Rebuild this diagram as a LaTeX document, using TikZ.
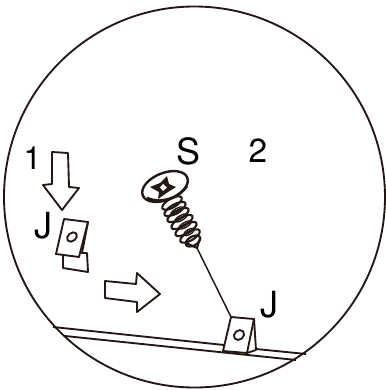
\documentclass[tikz,border=0pt]{standalone}
\usepackage{fontspec}
\setmainfont{TeX Gyre Heros}
\usepackage{tikz}
\definecolor{inkdark}{RGB}{35, 24, 21}
\tikzset{
  outline/.style={draw=inkdark, line width=1.4pt, line join=round},
  label/.style={font=\fontsize{#1}{#1}\selectfont, text=black, inner sep=0pt},
  thread/.style={draw=inkdark, line width=1.6pt}
}
\begin{document}
\begin{tikzpicture}[x=0.75pt, y=-0.75pt]
  \useasboundingbox (0,0) rectangle (386,390);

  % Outer circle
  \draw[draw=inkdark, line width=1.4pt] (194.5,197) circle [x radius=190.5, y radius=190.5];

  % Rail
  \draw[outline] (53,327) -- (224,345);
  \draw[outline] (256,349) -- (306,354);
  \draw[outline] (65,336) -- (296,360);

  % Arrow down
  \draw[outline] (52,152) -- (68,153) -- (69,187) -- (79,188) -- (62,210) -- (43,185) -- (52,184) -- cycle;
  % Arrow right
  \draw[outline] (105,281) -- (136,284) -- (137,273) -- (160,294) -- (137,312) -- (137,302) -- (105,298) -- cycle;

  % Loose clip
  \draw[outline] (64,219) -- (88,222) -- (79,257) -- (56,254) -- cycle;
  \draw[outline] (88,222) -- (82,253) -- (87,253) -- (88,272) -- (63,268) -- (63,256);
  \draw[outline] (72,237) circle [x radius=5.5, y radius=4, rotate=40];

  % Mounted clip
  \draw[outline, fill=white] (231,317) -- (254,319) -- (247,353) -- (223,351) -- cycle;
  \draw[outline] (254,319) -- (256,350) -- (247,353);
  \draw[outline] (239,335) circle [x radius=5.5, y radius=4.5, rotate=40];

  % Screw thread
  \foreach \cx/\cy/\rx in {172/203/11, 175/209/12, 178/215/12, 182/222/12, 186/229/12, 190/236/11, 193/241/8}
    \draw[thread] (\cx,\cy) circle [x radius=\rx, y radius=4.5, rotate=30];
  \foreach \cx/\cy/\rx in {177/211/7, 181/218/7, 185/225/7, 189/232/6}
    \draw[draw=inkdark, line width=1pt] (\cx,\cy) circle [x radius=\rx, y radius=2.5, rotate=30];
  \draw[thread] (186,243) -- (197,248) -- (200,238);
  \coordinate (screwtip) at (197,248);
  \coordinate (cliptop) at (231,317);
  \draw[draw=inkdark, line width=1.1pt] (screwtip) -- (cliptop);

  % Screw head
  \draw[draw=inkdark, line width=1.8pt, fill=white] (165,186.5) circle [x radius=24, y radius=13.5, rotate=22];
  \draw[draw=inkdark, line width=2pt] (147,198) .. controls (160,204) and (178,199) .. (187,186);
  \fill[inkdark] (150,187) -- (160,183) -- (167,176) -- (169,184) -- (176,187) -- (168,192) -- (158,199) -- (159,192) -- cycle;
  \fill[white] (163,184) -- (167,187.5) -- (163,191) -- (160,187.5) -- cycle;

  % Labels
  \node[label=27pt] (labS) at (189,151.5) {S};
  \node[label=25pt] (labtwo) at (258,151) {2};
  \node[label=24pt] (labone) at (32.5,158) {1};
  \node[label=27pt] (labJa) at (43,225.5) {J};
  \node[label=27pt] (labJb) at (269,305) {J};
\end{tikzpicture}
\end{document}
